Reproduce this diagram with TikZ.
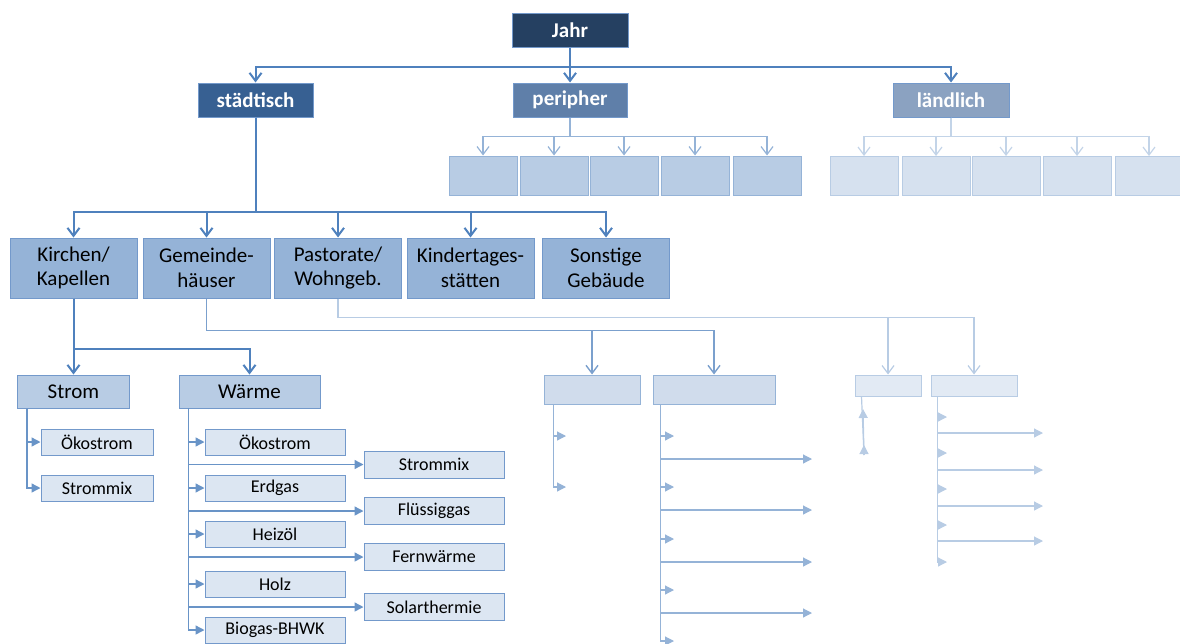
\documentclass[tikz,border=0pt]{standalone}
\usepackage{fontspec}
\setmainfont{Carlito}
\usetikzlibrary{arrows.meta}
\definecolor{cjahr}{HTML}{254061}
\definecolor{cstadt}{HTML}{376092}
\definecolor{cperi}{HTML}{5F7FA9}
\definecolor{cland}{HTML}{8BA2C1}
\definecolor{cmain}{HTML}{4F81BD}
\definecolor{cframe}{HTML}{7399CB}
\definecolor{ccat}{HTML}{95B3D7}
\definecolor{csub}{HTML}{B8CCE4}
\definecolor{cleaf}{HTML}{DCE6F2}
\definecolor{cperibox}{HTML}{B8CCE4}
\definecolor{clandbox}{HTML}{D6E1EF}
\definecolor{cgem}{HTML}{D0DCEC}
\definecolor{cpast}{HTML}{E2EAF4}
\tikzset{
  boxbase/.style={rectangle,draw,inner sep=0pt,align=center,line width=1pt},
  hdrbox/.style={boxbase,draw=cframe,text=white,minimum height=34pt,font=\bfseries\fontsize{21}{24}\selectfont},
  catbox/.style={boxbase,draw=cframe,fill=ccat,minimum width=127pt,minimum height=60pt,font=\fontsize{21}{24.5}\selectfont},
  subbox/.style={boxbase,draw=cframe,fill=csub,minimum height=33pt,font=\fontsize{21}{24}\selectfont},
  leafbox/.style={boxbase,draw=cframe,fill=cleaf,minimum height=26pt,font=\fontsize{18}{22}\selectfont},
  peribox/.style={boxbase,draw=ccat,fill=cperibox,minimum width=68pt,minimum height=39pt},
  landbox/.style={boxbase,draw=csub,fill=clandbox,minimum width=68pt,minimum height=39pt},
  arrmain/.style={draw=cmain,line width=2pt,-{Straight Barb[length=8pt,width=12pt]}},
  arrperi/.style={draw=ccat,line width=1.2pt,-{Straight Barb[length=8pt,width=12pt]}},
  arrland/.style={draw=csub!85!white,line width=1.2pt,-{Straight Barb[length=8pt,width=12pt]}},
  arrgem/.style={draw=cmain!75!white,line width=1.4pt,-{Straight Barb[length=8pt,width=12pt]}},
  arrpast/.style={draw=csub,line width=1.2pt,-{Straight Barb[length=8pt,width=12pt]}},
  arrleaf/.style={draw=cmain!85!white,line width=1.4pt,-{Triangle[length=9pt,width=9pt]}},
  arrgleaf/.style={draw=cmain!60!white,line width=1.2pt,-{Triangle[length=9pt,width=9pt]}},
  arrpleaf/.style={draw=csub,line width=1.2pt,-{Triangle[length=9pt,width=9pt]}}
}
\begin{document}
\begin{tikzpicture}[x=1pt,y=-1pt]
\useasboundingbox (0,0) rectangle (1180,643);
\node[hdrbox,fill=cjahr,minimum width=116pt] (jahr) at (570,30.5) {Jahr};
\node[hdrbox,fill=cstadt,minimum width=115pt] (stadt) at (255.5,100) {städtisch};
\node[hdrbox,fill=cperi,minimum width=114pt] (peri) at (570,100) {peripher};
\node[hdrbox,fill=cland,minimum width=116pt] (land) at (951,100) {ländlich};
\draw[arrmain] (jahr.south) -- ++(0,19) -| (stadt.north);
\draw[arrmain] (jahr.south) -- (peri.north);
\draw[arrmain] (jahr.south) -- ++(0,19) -| (land.north);
\node[peribox] (pa1) at (483,175.5) {};
\node[peribox] (pa2) at (554,175.5) {};
\node[peribox] (pa3) at (624,175.5) {};
\node[peribox] (pa4) at (695,175.5) {};
\node[peribox] (pa5) at (767,175.5) {};
\draw[arrperi] (peri.south) -- ++(0,19) -| (pa1.north);
\draw[arrperi] (peri.south) -- ++(0,19) -| (pa2.north);
\draw[arrperi] (peri.south) -- ++(0,19) -| (pa3.north);
\draw[arrperi] (peri.south) -- ++(0,19) -| (pa4.north);
\draw[arrperi] (peri.south) -- ++(0,19) -| (pa5.north);
\node[landbox] (la1) at (864,176) {};
\node[landbox] (la2) at (936,176) {};
\node[landbox] (la3) at (1006,176) {};
\node[landbox] (la4) at (1077,176) {};
\node[landbox] (la5) at (1149,176) {};
\draw[arrland] (land.south) -- ++(0,19) -| (la1.north);
\draw[arrland] (land.south) -- ++(0,19) -| (la2.north);
\draw[arrland] (land.south) -- ++(0,19) -| (la3.north);
\draw[arrland] (land.south) -- ++(0,19) -| (la4.north);
\draw[arrland] (land.south) -- ++(0,19) -| (la5.north);
\node[catbox] (kirche) at (73.5,268) {Kirchen/\\Kapellen};
\node[catbox] (gem) at (206.5,268) {Gemeinde-\\häuser};
\node[catbox] (past) at (338,268) {Pastorate/\\Wohngeb.};
\node[catbox] (kita) at (470.5,268) {Kindertages-\\stätten};
\node[catbox] (sonst) at (606,268) {Sonstige\\Gebäude};
\draw[arrmain] (stadt.south) -- ++(0,94) -| (kirche.north);
\draw[arrmain] (stadt.south) -- ++(0,94) -| (gem.north);
\draw[arrmain] (stadt.south) -- ++(0,94) -| (past.north);
\draw[arrmain] (stadt.south) -- ++(0,94) -| (kita.north);
\draw[arrmain] (stadt.south) -- ++(0,94) -| (sonst.north);
\node[subbox,minimum width=112pt] (strom) at (73.5,391.5) {Strom};
\node[subbox,minimum width=141pt] (waerme) at (249.5,391.5) {Wärme};
\draw[arrmain] (kirche.south) -- ++(0,50) -| (strom.north);
\draw[arrmain] (kirche.south) -- ++(0,50) -| (waerme.north);
\node[leafbox,minimum width=112pt] (so1) at (97,442) {Ökostrom};
\node[leafbox,minimum width=112pt] (so2) at (97,488) {Strommix};
\draw[arrleaf] ([xshift=10pt]strom.south west) |- (so1.west);
\draw[arrleaf] ([xshift=10pt]strom.south west) |- (so2.west);
\node[leafbox,minimum width=140pt] (wl1) at (275,442) {Ökostrom};
\node[leafbox,minimum width=140pt] (wl2) at (275,488) {Erdgas};
\node[leafbox,minimum width=140pt] (wl3) at (275,534) {Heizöl};
\node[leafbox,minimum width=140pt] (wl4) at (275,584) {Holz};
\node[leafbox,minimum width=140pt] (wl5) at (275,630) {Biogas-BHWK};
\node[leafbox,minimum width=140pt,minimum height=27pt] (wr1) at (434,464.5) {Strommix};
\node[leafbox,minimum width=140pt,minimum height=27pt] (wr2) at (434,511) {Flüssiggas};
\node[leafbox,minimum width=140pt,minimum height=27pt] (wr3) at (434,557) {Fernwärme};
\node[leafbox,minimum width=140pt,minimum height=27pt] (wr4) at (434,607) {Solarthermie};
\draw[arrleaf] ([xshift=10pt]waerme.south west) |- (wl1.west);
\draw[arrleaf] ([xshift=10pt]waerme.south west) |- (wl2.west);
\draw[arrleaf] ([xshift=10pt]waerme.south west) |- (wl3.west);
\draw[arrleaf] ([xshift=10pt]waerme.south west) |- (wl4.west);
\draw[arrleaf] ([xshift=10pt]waerme.south west) |- (wl5.west);
\draw[arrleaf] ([xshift=10pt]waerme.south west) |- (wr1.west);
\draw[arrleaf] ([xshift=10pt]waerme.south west) |- (wr2.west);
\draw[arrleaf] ([xshift=10pt]waerme.south west) |- (wr3.west);
\draw[arrleaf] ([xshift=10pt]waerme.south west) |- (wr4.west);
\node[boxbase,draw=cmain!60!white,fill=cgem,minimum width=96pt,minimum height=29pt] (g1) at (592,389.5) {};
\node[boxbase,draw=cmain!60!white,fill=cgem,minimum width=122pt,minimum height=29pt] (g2) at (714,389.5) {};
\draw[arrgem] (gem.south) -- ++(0,32) -| (g1.north);
\draw[arrgem] (gem.south) -- ++(0,32) -| (g2.north);
\coordinate (g1a) at (566,436);
\coordinate (g1b) at (566,487);
\draw[arrgleaf] ([xshift=10pt]g1.south west) |- (g1a);
\draw[arrgleaf] ([xshift=10pt]g1.south west) |- (g1b);
\coordinate (g2a) at (674,436);
\coordinate (g2b) at (812,459);
\coordinate (g2c) at (674,487);
\coordinate (g2d) at (812,510);
\coordinate (g2e) at (674,539);
\coordinate (g2f) at (812,562);
\coordinate (g2g) at (674,590);
\coordinate (g2h) at (812,613);
\coordinate (g2i) at (674,641);
\draw[arrgleaf] ([xshift=8pt]g2.south west) |- (g2a);
\draw[arrgleaf] ([xshift=8pt]g2.south west) |- (g2b);
\draw[arrgleaf] ([xshift=8pt]g2.south west) |- (g2c);
\draw[arrgleaf] ([xshift=8pt]g2.south west) |- (g2d);
\draw[arrgleaf] ([xshift=8pt]g2.south west) |- (g2e);
\draw[arrgleaf] ([xshift=8pt]g2.south west) |- (g2f);
\draw[arrgleaf] ([xshift=8pt]g2.south west) |- (g2g);
\draw[arrgleaf] ([xshift=8pt]g2.south west) |- (g2h);
\draw[arrgleaf] ([xshift=8pt]g2.south west) |- (g2i);
\node[boxbase,draw=csub,fill=cpast,minimum width=66pt,minimum height=21pt] (p1) at (888,385.5) {};
\node[boxbase,draw=csub,fill=cpast,minimum width=86pt,minimum height=21pt] (p2) at (974,385.5) {};
\draw[arrpast] (past.south) -- ++(0,19) -| (p1.north);
\draw[arrpast] (past.south) -- ++(0,19) -| (p2.north);
\coordinate (p1z) at (864,455);
\coordinate (p1a) at (863,409);
\coordinate (p1b) at (864,445);
\draw[draw=csub,line width=1.2pt] ([xshift=7pt]p1.south west) -- (p1z);
\draw[arrpleaf] (p1z) -- (p1a);
\draw[arrpleaf] (p1z) -- (p1b);
\coordinate (p2a) at (947,417);
\coordinate (p2b) at (1043,433);
\coordinate (p2c) at (947,453);
\coordinate (p2d) at (1043,470);
\coordinate (p2e) at (947,489);
\coordinate (p2f) at (1043,506);
\coordinate (p2g) at (947,525);
\coordinate (p2h) at (1043,541);
\coordinate (p2i) at (947,562);
\draw[arrpleaf] ([xshift=7pt]p2.south west) |- (p2a);
\draw[arrpleaf] ([xshift=7pt]p2.south west) |- (p2b);
\draw[arrpleaf] ([xshift=7pt]p2.south west) |- (p2c);
\draw[arrpleaf] ([xshift=7pt]p2.south west) |- (p2d);
\draw[arrpleaf] ([xshift=7pt]p2.south west) |- (p2e);
\draw[arrpleaf] ([xshift=7pt]p2.south west) |- (p2f);
\draw[arrpleaf] ([xshift=7pt]p2.south west) |- (p2g);
\draw[arrpleaf] ([xshift=7pt]p2.south west) |- (p2h);
\draw[arrpleaf] ([xshift=7pt]p2.south west) |- (p2i);
\end{tikzpicture}
\end{document}
